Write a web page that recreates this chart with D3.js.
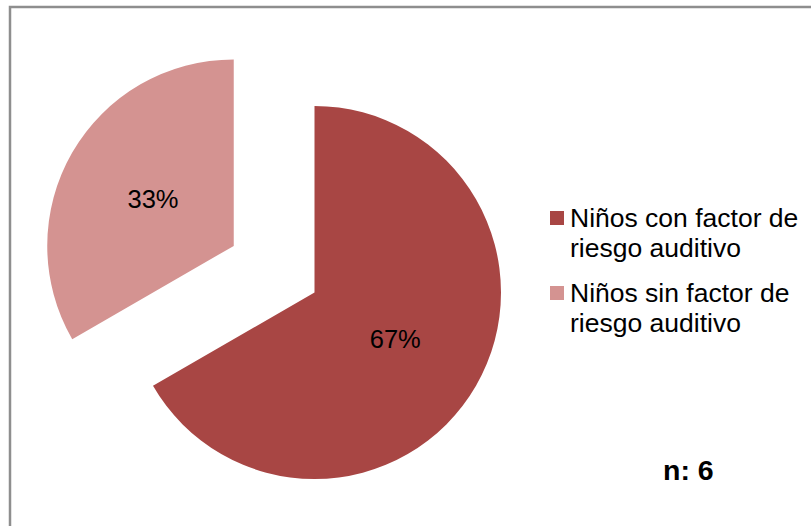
<!DOCTYPE html>
<html>
<head>
<meta charset="utf-8">
<script src="https://cdn.jsdelivr.net/npm/d3@7"></script>
<style>
  html, body { margin: 0; padding: 0; background: #fff; }
  svg { display: block; font-family: "Liberation Sans", Arial, sans-serif; }
</style>
</head>
<body>
<svg id="chart" width="811" height="526"></svg>
<script>
// Children by hearing-risk factor (n = 6)
const categories = ["Niños con factor de riesgo auditivo", "Niños sin factor de riesgo auditivo"];
const legendLines = [["Niños con factor de", "riesgo auditivo"], ["Niños sin factor de", "riesgo auditivo"]];
const counts = [4, 2];
const sampleLabel = "n: 6";

const colors = ["#A84644", "#D49391"];
const explode = [0, 0.5]; // offset of each slice as a fraction of the radius

const svg = d3.select("#chart");
const W = 811, H = 526;

// chart frame
svg.append("rect")
  .attr("x", 10).attr("y", 7)
  .attr("width", W + 20).attr("height", H + 20)
  .attr("fill", "#fff")
  .attr("stroke", "#8e8e8e")
  .attr("stroke-width", 2.5);

const cx = 314.5, cy = 292.5, r = 186.5;
const total = d3.sum(counts);

const pie = d3.pie().sort(null).value(d => d).startAngle(0).endAngle(2 * Math.PI);
const arcs = pie(counts);
const arc = d3.arc().innerRadius(0).outerRadius(r);

const g = svg.append("g").attr("transform", `translate(${cx},${cy})`);

const slices = g.selectAll("g.slice")
  .data(arcs)
  .enter().append("g")
  .attr("class", "slice")
  .attr("transform", (d, i) => {
    const mid = (d.startAngle + d.endAngle) / 2;
    const off = explode[i] * r;
    return `translate(${Math.sin(mid) * off},${-Math.cos(mid) * off})`;
  });

slices.append("path")
  .attr("d", arc)
  .attr("fill", (d, i) => colors[i]);

slices.append("text")
  .attr("transform", d => `translate(${arc.centroid(d)})`)
  .attr("text-anchor", "middle")
  .attr("dy", "0.36em")
  .attr("font-size", 25.5)
  .attr("fill", "#000")
  .text(d => Math.round(d.data / total * 100) + "%");

// legend
const legend = svg.append("g").attr("transform", "translate(550,0)");
const entryY = [227, 302];
legendLines.forEach((lines, i) => {
  legend.append("rect")
    .attr("x", 0).attr("y", entryY[i] - 16)
    .attr("width", 14).attr("height", 14)
    .attr("fill", colors[i]);
  const t = legend.append("text")
    .attr("x", 20).attr("y", entryY[i])
    .attr("font-size", 26.5)
    .attr("fill", "#000");
  lines.forEach((ln, j) => {
    t.append("tspan").attr("x", 20).attr("dy", j === 0 ? 0 : 30).text(ln);
  });
});

svg.append("text")
  .attr("x", 663).attr("y", 480)
  .attr("font-size", 28.5)
  .attr("font-weight", "bold")
  .attr("fill", "#000")
  .text(sampleLabel);
</script>
</body>
</html>
